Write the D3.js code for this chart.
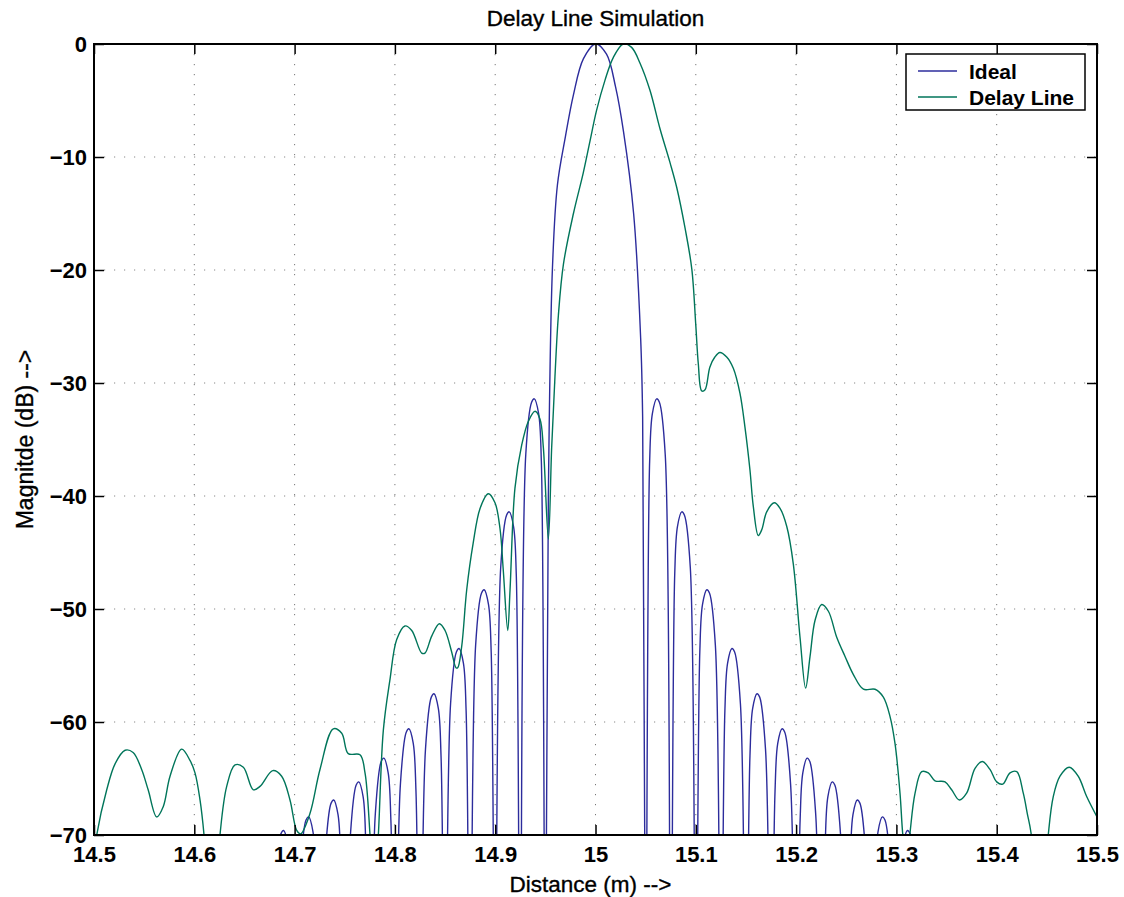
<!DOCTYPE html>
<html>
<head>
<meta charset="utf-8">
<script src="https://cdn.jsdelivr.net/npm/d3@7"></script>
<style>
  body { margin: 0; background: #fff; }
  svg { display: block; font-family: "Liberation Sans", Arial, sans-serif; }
</style>
</head>
<body>
<div id="chart"></div>
<script>
// values
const xTicks = [14.5, 14.6, 14.7, 14.8, 14.9, 15, 15.1, 15.2, 15.3, 15.4, 15.5];
const yTicks = [0, -10, -20, -30, -40, -50, -60, -70];
const seriesNames = ["Ideal", "Delay Line"];

// Ideal response: sinc-like main lobe with sidelobes (nulls fall below -70)
const idealPoints = [
  [14.675, -88],
  [14.6805, -74.5], [14.6863, -69.9], [14.689, -69.6], [14.6933, -70.9], [14.696, -75.1], [14.700, -88],
  [14.7055, -73.3], [14.7113, -68.7], [14.714, -68.4], [14.7183, -69.7], [14.721, -73.9], [14.725, -88],
  [14.7305, -71.8], [14.7363, -67.2], [14.739, -66.9], [14.7433, -68.2], [14.746, -72.4], [14.750, -88],
  [14.7555, -70.2], [14.7613, -65.6], [14.764, -65.3], [14.7683, -66.6], [14.771, -70.8], [14.775, -88],
  [14.7805, -68.1], [14.7863, -63.5], [14.789, -63.2], [14.7933, -64.5], [14.796, -68.7], [14.800, -88],
  [14.8055, -65.5], [14.8113, -60.9], [14.814, -60.6], [14.8183, -61.9], [14.821, -66.1], [14.825, -88],
  [14.8305, -62.4], [14.8363, -57.8], [14.839, -57.5], [14.8433, -58.8], [14.846, -63.0], [14.850, -88],
  [14.8555, -58.4], [14.8613, -53.8], [14.864, -53.5], [14.8683, -54.8], [14.871, -59.0], [14.875, -88],
  [14.8805, -53.2], [14.8863, -48.6], [14.889, -48.3], [14.8933, -49.6], [14.896, -53.8], [14.900, -88],
  [14.9055, -46.3], [14.9113, -41.7], [14.914, -41.4], [14.9183, -42.7], [14.921, -46.9], [14.925, -88],
  [14.9305, -36.3], [14.9363, -31.7], [14.939, -31.4], [14.9433, -32.7], [14.946, -36.9], [14.950, -88],
  [14.953, -40], [14.957, -20], [14.962, -12.5], [14.970, -8.2], [14.978, -4.5], [14.988, -1.3],
  [15.000, 0], [15.011, -0.9], [15.020, -3.8], [15.028, -7.8], [15.038, -15], [15.045, -26],
  [15.047, -33], [15.050, -88],
  [15.054, -36.9], [15.0567, -32.7], [15.061, -31.4], [15.0637, -31.7], [15.0695, -36.3], [15.075, -88],
  [15.079, -46.9], [15.0817, -42.7], [15.086, -41.4], [15.0887, -41.7], [15.0945, -46.3], [15.100, -88],
  [15.104, -53.8], [15.1067, -49.6], [15.111, -48.3], [15.1137, -48.6], [15.1195, -53.2], [15.125, -88],
  [15.129, -59.0], [15.1317, -54.8], [15.136, -53.5], [15.1387, -53.8], [15.1445, -58.4], [15.150, -88],
  [15.154, -63.0], [15.1567, -58.8], [15.161, -57.5], [15.1637, -57.8], [15.1695, -62.4], [15.175, -88],
  [15.179, -66.1], [15.1817, -61.9], [15.186, -60.6], [15.1887, -60.9], [15.1945, -65.5], [15.200, -88],
  [15.204, -68.7], [15.2067, -64.5], [15.211, -63.2], [15.2137, -63.5], [15.2195, -68.1], [15.225, -88],
  [15.229, -70.8], [15.2317, -66.6], [15.236, -65.3], [15.2387, -65.6], [15.2445, -70.2], [15.250, -88],
  [15.254, -72.4], [15.2567, -68.2], [15.261, -66.9], [15.2637, -67.2], [15.2695, -71.8], [15.275, -88],
  [15.279, -73.9], [15.2817, -69.7], [15.286, -68.4], [15.2887, -68.7], [15.2945, -73.3], [15.300, -88],
  [15.304, -75.1], [15.3067, -70.9], [15.311, -69.6], [15.3137, -69.9], [15.3195, -74.5], [15.325, -88]
];

// Delay line response
const delayPoints = [
  [14.500, -72.0], [14.5027, -70.0], [14.5127, -66.0], [14.521, -63.7], [14.531, -62.5],
  [14.539, -62.7], [14.5475, -64.2], [14.554, -66.0], [14.5625, -68.4], [14.569, -67.5],
  [14.5758, -64.8], [14.5874, -62.4], [14.5957, -63.4], [14.6007, -64.5], [14.6057, -66.9],
  [14.6097, -70.0], [14.6177, -80.0], [14.6256, -70.0], [14.6323, -65.7], [14.6406, -63.8],
  [14.6489, -64.0], [14.6588, -66.0], [14.6655, -65.7], [14.6782, -64.3], [14.6871, -64.8],
  [14.6954, -66.9], [14.7021, -69.6], [14.706, -69.9], [14.7153, -68.1], [14.7253, -64.2],
  [14.7386, -60.6], [14.747, -61.0], [14.7535, -62.8], [14.7652, -62.9], [14.7702, -64.5],
  [14.7752, -70.0], [14.7793, -76.0], [14.7835, -70.0], [14.7885, -60.7], [14.795, -56.3],
  [14.8018, -52.7], [14.810, -51.5], [14.8168, -51.9], [14.8267, -53.9], [14.830, -53.9],
  [14.8367, -52.4], [14.8443, -51.3], [14.850, -51.9], [14.8566, -53.8], [14.8609, -55.2],
  [14.8626, -55.2], [14.8666, -53.3], [14.8716, -48.3], [14.878, -44.2], [14.8849, -41.1],
  [14.8931, -39.8], [14.8998, -40.6], [14.9048, -42.9], [14.908, -46.5], [14.9125, -51.9],
  [14.9148, -48.3], [14.9197, -39.3], [14.9264, -35.5], [14.933, -33.4], [14.9397, -32.5],
  [14.9447, -33.2], [14.948, -35.7], [14.953, -43.8], [14.9563, -35.7], [14.9596, -29.4],
  [14.963, -24.0], [14.968, -19.5], [14.978, -15.0], [14.9878, -11.4], [14.9945, -8.6],
  [15.001, -5.9], [15.0095, -3.2], [15.0177, -1.2], [15.0277, 0.0], [15.036, -0.3],
  [15.0444, -1.7], [15.0543, -4.1], [15.0643, -7.5], [15.0743, -10.5], [15.081, -12.7],
  [15.0893, -16.3], [15.096, -19.9], [15.100, -24.9], [15.1025, -28.3], [15.1059, -30.7],
  [15.1092, -30.6], [15.114, -28.6], [15.119, -27.7], [15.124, -27.3], [15.1308, -27.7],
  [15.1374, -28.7], [15.144, -30.9], [15.149, -33.9], [15.154, -37.7], [15.1573, -40.9],
  [15.1623, -43.5], [15.1657, -43.0], [15.1707, -41.4], [15.1783, -40.6], [15.184, -41.1],
  [15.1907, -42.7], [15.1972, -46.0], [15.2039, -52.5], [15.2095, -57.0], [15.2139, -54.2],
  [15.2189, -51.0], [15.2255, -49.6], [15.2322, -50.2], [15.2405, -52.5], [15.2488, -54.2],
  [15.2571, -55.8], [15.2671, -57.1], [15.2787, -57.1], [15.287, -57.8], [15.2936, -59.5],
  [15.2986, -61.9], [15.3036, -66.3], [15.3062, -69.8], [15.310, -73.0], [15.3136, -69.8],
  [15.3186, -66.3], [15.3252, -64.4], [15.3318, -64.5], [15.3385, -65.2], [15.3485, -65.3],
  [15.3551, -66.0], [15.3627, -66.9], [15.370, -66.3], [15.3784, -64.1], [15.3857, -63.5],
  [15.3933, -64.2], [15.400, -65.3], [15.406, -65.5], [15.4133, -64.5], [15.420, -64.4],
  [15.4265, -66.3], [15.4305, -68.1], [15.4342, -69.8], [15.443, -80.0], [15.4514, -70.0],
  [15.4564, -66.6], [15.4631, -64.8], [15.4723, -64.0], [15.4813, -64.8], [15.4897, -66.6],
  [15.500, -68.4]
];

const colors = ["#2c2c9c", "#00755a"];

const width = 1124, height = 897;
const margin = { top: 44, right: 27, bottom: 62, left: 94 };
const plotW = width - margin.left - margin.right;
const plotH = height - margin.top - margin.bottom;

const svg = d3.select("#chart").append("svg")
  .attr("width", width)
  .attr("height", height);

const x = d3.scaleLinear().domain([14.5, 15.5]).range([0, plotW]);
const y = d3.scaleLinear().domain([-70, 0]).range([plotH, 0]);

svg.append("defs").append("clipPath")
  .attr("id", "plot-clip")
  .append("rect")
  .attr("width", plotW)
  .attr("height", plotH);

const g = svg.append("g")
  .attr("transform", `translate(${margin.left},${margin.top})`);

// dotted grid
g.append("g").selectAll("line")
  .data(xTicks.slice(1, -1))
  .join("line")
  .attr("x1", d => x(d)).attr("x2", d => x(d))
  .attr("y1", 0).attr("y2", plotH)
  .style("stroke", "#777")
  .style("stroke-width", 1)
  .style("stroke-dasharray", "1.2,8.8");

g.append("g").selectAll("line")
  .data(yTicks.slice(1, -1))
  .join("line")
  .attr("x1", 0).attr("x2", plotW)
  .attr("y1", d => y(d)).attr("y2", d => y(d))
  .style("stroke", "#888")
  .style("stroke-width", 1)
  .style("stroke-dasharray", "1.2,8.8");

// curves
const line = d3.line()
  .x(d => x(d[0]))
  .y(d => y(d[1]))
  .curve(d3.curveCatmullRom.alpha(0.5));

const curves = g.append("g").attr("clip-path", "url(#plot-clip)");
[idealPoints, delayPoints].forEach((pts, i) => {
  curves.append("path")
    .datum(pts)
    .attr("d", line)
    .style("fill", "none")
    .style("stroke", colors[i])
    .style("stroke-width", 1.4)
    .style("stroke-linejoin", "round");
});

// axes: ticks inside, on all four sides
const tickLen = 10;
const xBottom = d3.axisBottom(x).tickValues(xTicks).tickSizeInner(-tickLen).tickSizeOuter(0)
  .tickPadding(11).tickFormat(d3.format("~g"));
const yLeft = d3.axisLeft(y).tickValues(yTicks).tickSizeInner(-tickLen).tickSizeOuter(0)
  .tickPadding(7).tickFormat(d3.format("~g"));

const gx = g.append("g").attr("transform", `translate(0,${plotH})`).call(xBottom);
const gy = g.append("g").call(yLeft);
const gxTop = g.append("g").call(d3.axisTop(x).tickValues(xTicks).tickSizeInner(-tickLen).tickSizeOuter(0).tickFormat(""));
const gyRight = g.append("g").attr("transform", `translate(${plotW},0)`)
  .call(d3.axisRight(y).tickValues(yTicks).tickSizeInner(-tickLen).tickSizeOuter(0).tickFormat(""));

[gx, gy, gxTop, gyRight].forEach(a => {
  a.select(".domain").remove();
  a.selectAll(".tick line").style("stroke", "#000").style("stroke-width", 1.5);
  a.selectAll("text")
    .style("font-family", "'Liberation Sans', Arial, sans-serif")
    .style("font-size", "22px")
    .style("font-weight", "bold")
    .style("fill", "#000");
});
gy.selectAll("text").attr("dy", "0.32em");

// box
g.append("rect")
  .attr("width", plotW).attr("height", plotH)
  .style("fill", "none")
  .style("stroke", "#000")
  .style("stroke-width", 2);

// titles
const labelStyle = sel => sel
  .attr("text-anchor", "middle")
  .style("font-size", "22.5px")
  .style("fill", "#000")
  .style("stroke", "#000")
  .style("stroke-width", 0.35);

svg.append("text")
  .attr("x", margin.left + plotW / 2)
  .attr("y", 26)
  .call(labelStyle)
  .text("Delay Line Simulation");

svg.append("text")
  .attr("x", margin.left + plotW / 2 - 5)
  .attr("y", 892)
  .call(labelStyle)
  .text("Distance (m) -->");

svg.append("text")
  .attr("transform", `translate(33,${margin.top + plotH / 2}) rotate(-90)`)
  .call(labelStyle)
  .style("font-size", "23px")
  .text("Magnitde (dB) -->");

// legend
const legend = svg.append("g").attr("transform", "translate(906,54)");
legend.append("rect")
  .attr("width", 179).attr("height", 56)
  .style("fill", "#fff")
  .style("stroke", "#000")
  .style("stroke-width", 1.5);
seriesNames.forEach((name, i) => {
  const ly = 17 + i * 26;
  legend.append("line")
    .attr("x1", 12).attr("x2", 51)
    .attr("y1", ly).attr("y2", ly)
    .style("stroke", colors[i])
    .style("stroke-width", 1.4);
  legend.append("text")
    .attr("x", 63).attr("y", ly)
    .attr("dy", "0.36em")
    .style("font-size", "21px")
    .style("font-weight", "bold")
    .text(name);
});
</script>
</body>
</html>
